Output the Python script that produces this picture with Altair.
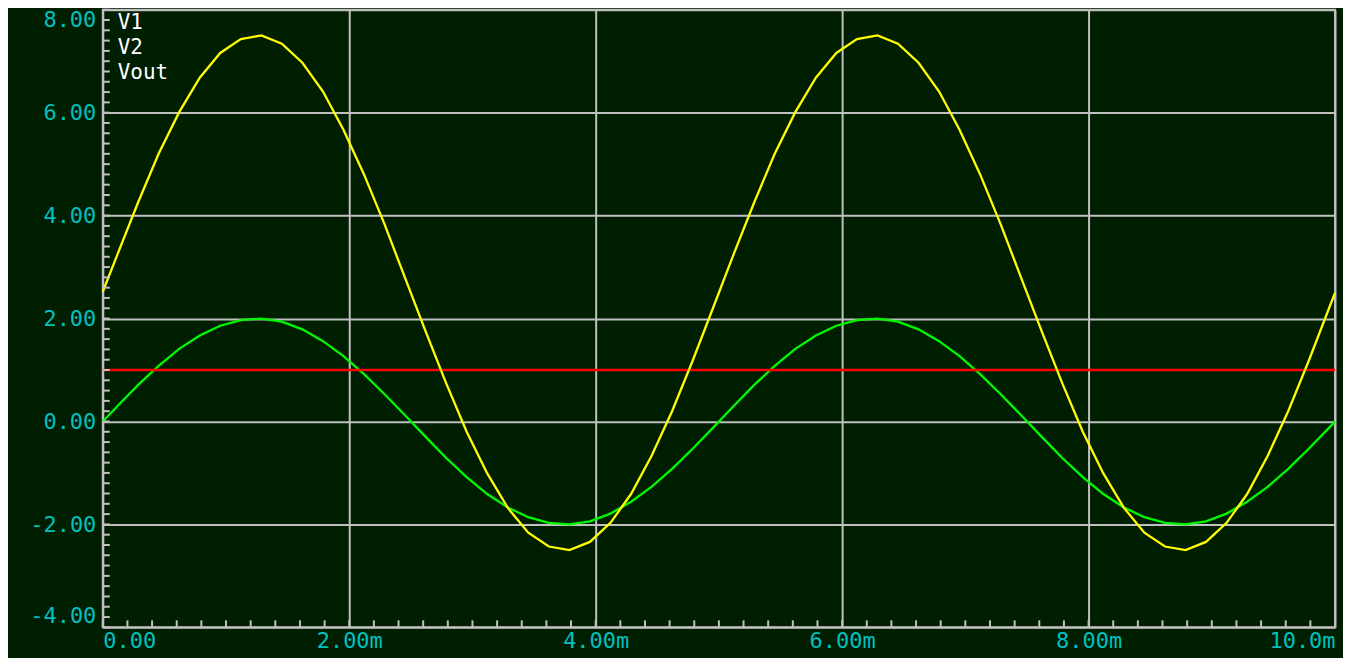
import altair as alt
import pandas as pd
import numpy as np

# ---- data (time in ms, voltage in V) ----
t_ms = [0.000, 0.120, 0.287, 0.453, 0.620, 0.787, 0.953, 1.120, 1.287, 1.453,
        1.620, 1.787, 1.953, 2.120, 2.287, 2.453, 2.620, 2.787, 2.953, 3.120,
        3.287, 3.453, 3.620, 3.787, 3.953, 4.120, 4.287, 4.453, 4.620, 4.787,
        4.953, 5.120, 5.287, 5.453, 5.620, 5.787, 5.953, 6.120, 6.287, 6.453,
        6.620, 6.787, 6.953, 7.120, 7.287, 7.453, 7.620, 7.787, 7.953, 8.120,
        8.287, 8.453, 8.620, 8.787, 8.953, 9.120, 9.287, 9.453, 9.620, 9.787,
        9.953, 10.000]

v1 = [0.00, 0.30, 0.71, 1.08, 1.41, 1.67, 1.86, 1.97, 2.00, 1.94,
      1.79, 1.56, 1.27, 0.92, 0.53, 0.12, -0.30, -0.71, -1.08, -1.41,
      -1.67, -1.86, -1.97, -2.00, -1.94, -1.79, -1.56, -1.27, -0.92, -0.53,
      -0.12, 0.30, 0.71, 1.08, 1.41, 1.67, 1.86, 1.97, 2.00, 1.94,
      1.79, 1.56, 1.27, 0.92, 0.53, 0.12, -0.30, -0.71, -1.08, -1.41,
      -1.67, -1.86, -1.97, -2.00, -1.94, -1.79, -1.56, -1.27, -0.92, -0.53,
      -0.12, 0.00]

vout = [2.52, 3.25, 4.26, 5.20, 6.01, 6.68, 7.16, 7.43, 7.50, 7.34,
        6.97, 6.41, 5.67, 4.80, 3.83, 2.79, 1.75, 0.74, -0.20, -1.01,
        -1.68, -2.16, -2.43, -2.50, -2.34, -1.97, -1.41, -0.67, 0.20, 1.18,
        2.21, 3.25, 4.26, 5.20, 6.01, 6.68, 7.16, 7.43, 7.50, 7.34,
        6.97, 6.41, 5.67, 4.80, 3.83, 2.79, 1.75, 0.74, -0.20, -1.01,
        -1.68, -2.16, -2.43, -2.50, -2.34, -1.97, -1.41, -0.67, 0.20, 1.18,
        2.21, 2.50]

v2_t = [0.0, 10.0]
v2 = [1.0, 1.0]

series_names = ["V1", "V2", "Vout"]
series_colors = ["#00F800", "#FF0000", "#FFFF00"]

x_ticks = [0, 2, 4, 6, 8, 10]
y_ticks = [-4, -2, 0, 2, 4, 6, 8]

# ---- styles ----
BG = "#001E00"
GRID = "#C0C0C0"
LABEL = "#00C0C0"
W, H = 1235, 619

df = pd.concat([
    pd.DataFrame({"t": t_ms, "v": v1, "series": "V1"}),
    pd.DataFrame({"t": v2_t, "v": v2, "series": "V2"}),
    pd.DataFrame({"t": t_ms, "v": vout, "series": "Vout"}),
], ignore_index=True)

x_minor = np.round(np.arange(0, 10.0001, 0.2), 3)
y_minor = np.round(np.arange(-4, 8.0001, 0.2), 3)

xscale = alt.Scale(domain=[0, 10], nice=False, zero=False)
yscale = alt.Scale(domain=[-4, 8], nice=False, zero=False)

xaxis = alt.Axis(
    values=x_ticks, title=None, grid=True, gridColor=GRID, gridWidth=2, gridOpacity=1,
    domain=False, ticks=False, labelColor=LABEL, labelFont="DejaVu Sans Mono",
    labelFontSize=22, labelPadding=3, labelFlush=True,
    labelExpr="datum.value == 0 ? '0.00' : (datum.value >= 10 ? format(datum.value, '.1f') + 'm' : format(datum.value, '.2f') + 'm')",
)
yaxis = alt.Axis(
    values=y_ticks, title=None, grid=True, gridColor=GRID, gridWidth=2, gridOpacity=1,
    domain=False, ticks=False, labelColor=LABEL, labelFont="DejaVu Sans Mono",
    labelFontSize=22, labelPadding=7, labelFlush=True,
    labelExpr="(datum.value < 0 ? '-' : '') + format(abs(datum.value), '.2f')",
)

lines = alt.Chart(df).mark_line(strokeWidth=2.3).encode(
    x=alt.X("t:Q", scale=xscale, axis=xaxis),
    y=alt.Y("v:Q", scale=yscale, axis=yaxis),
    color=alt.Color(
        "series:N",
        scale=alt.Scale(domain=series_names, range=series_colors),
        legend=alt.Legend(
            title=None, orient="none", legendX=-6, legendY=3,
            labelColor="white", labelFont="DejaVu Sans Mono", labelFontSize=21,
            symbolSize=0, symbolOpacity=0, symbolStrokeWidth=0,
            rowPadding=3, padding=0, labelOffset=0,
        ),
    ),
)

ymin = alt.Chart(pd.DataFrame({"v": y_minor})).mark_rule(color=GRID, strokeWidth=2).encode(
    y=alt.Y("v:Q", scale=yscale, axis=yaxis),
    x=alt.value(0),
    x2=alt.value(7),
)
xmin = alt.Chart(pd.DataFrame({"t": x_minor})).mark_rule(color=GRID, strokeWidth=2).encode(
    x=alt.X("t:Q", scale=xscale, axis=xaxis),
    y=alt.value(H),
    y2=alt.value(H - 7),
)

chart = alt.layer(lines, xmin, ymin).properties(
    width=W, height=H,
    padding={"left": 95, "top": 1, "right": 8, "bottom": 30},
    autosize=alt.AutoSizeParams(type="none"),
    background=BG,
).configure_view(stroke=GRID, strokeWidth=2, fill=BG)

chart.save("out.html", embed_options={"renderer": "svg", "actions": False})
